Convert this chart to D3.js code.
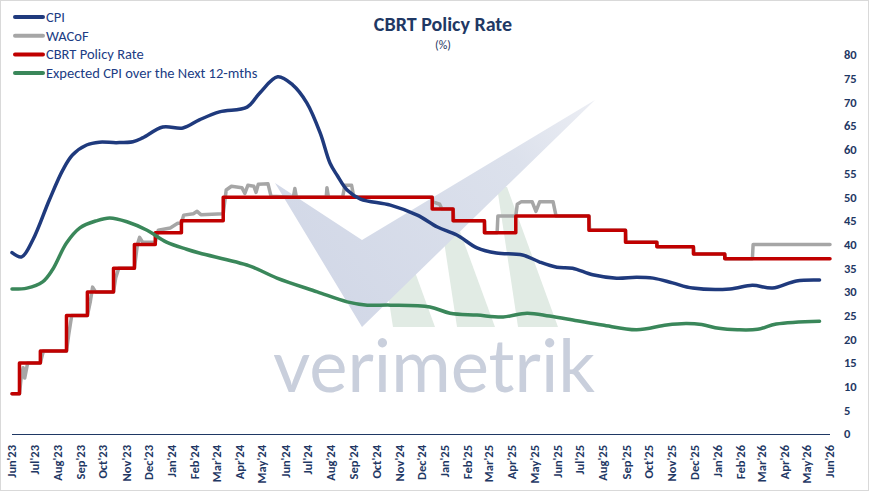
<!DOCTYPE html>
<html>
<head>
<meta charset="utf-8">
<script src="https://cdn.jsdelivr.net/npm/d3@7"></script>
<style>
  body { margin: 0; background: #fff; }
  svg { display: block; font-family: Carlito, Lato, "Open Sans", sans-serif; }
</style>
</head>
<body>
<div id="chart"></div>
<script>
// Data
const xTickLabels = ["Jun'23","Jul'23","Aug'23","Sep'23","Oct'23","Nov'23","Dec'23",
  "Jan'24","Feb'24","Mar'24","Apr'24","May'24","Jun'24","Jul'24","Aug'24","Sep'24","Oct'24","Nov'24","Dec'24",
  "Jan'25","Feb'25","Mar'25","Apr'25","May'25","Jun'25","Jul'25","Aug'25","Sep'25","Oct'25","Nov'25","Dec'25",
  "Jan'26","Feb'26","Mar'26","Apr'26","May'26","Jun'26"];
const yTicks = [0,5,10,15,20,25,30,35,40,45,50,55,60,65,70,75,80];

const policyDates = ["2023-06-12","2023-06-22","2023-07-20","2023-08-24","2023-09-21","2023-10-26","2023-11-23",
  "2023-12-21","2024-01-25","2024-03-21","2024-12-26","2025-01-23","2025-03-06","2025-04-17","2025-07-24",
  "2025-09-11","2025-10-23","2025-12-11","2026-01-22","2026-06-12"];
const policyValues = [8.5,15,17.5,25,30,35,40,42.5,45,50,47.5,45,42.5,46,43,40.5,39.5,38,37,37];

const wacofDates = ["2023-06-12","2023-06-22","2023-06-24","2023-06-27","2023-06-29","2023-07-03","2023-07-20","2023-07-24",
  "2023-08-24","2023-08-27","2023-08-31","2023-09-21","2023-09-25","2023-09-28","2023-10-02","2023-10-26","2023-10-29","2023-11-02",
  "2023-11-23","2023-11-27","2023-11-30","2023-12-04","2023-12-21","2023-12-25","2024-01-10","2024-01-20","2024-01-25","2024-01-28",
  "2024-02-10","2024-02-15","2024-02-20","2024-03-21","2024-03-25","2024-04-01","2024-04-15","2024-04-19","2024-04-23","2024-05-01",
  "2024-05-04","2024-05-07","2024-05-20","2024-05-24","2024-06-23","2024-06-25","2024-06-27","2024-08-06","2024-08-07","2024-08-09",
  "2024-08-28","2024-08-31","2024-09-09","2024-09-12","2024-12-26","2024-12-27","2025-01-05","2025-01-08","2025-01-23","2025-01-24",
  "2025-03-06","2025-03-07","2025-03-23","2025-03-24","2025-04-17","2025-04-19","2025-04-24","2025-05-09","2025-05-14","2025-05-19",
  "2025-06-06","2025-06-10","2025-07-24","2025-07-25","2025-09-11","2025-09-12","2025-10-23","2025-10-24","2025-12-11","2025-12-12",
  "2026-01-22","2026-01-23","2026-02-28","2026-03-01","2026-06-12"];
const wacofValues = [8.5,8.5,11.5,14,11.8,15,15,17.5,
  17.5,21,25,25,28,31,30,30,33,35,
  35,40,41.5,40.5,40.5,43,43.5,44.5,44.5,46.2,
  46.5,47,46.3,46.5,51.5,52.3,52,50.8,52.5,52.3,
  51,52.7,52.8,50.2,50,51.8,50,50,52,50,
  50,52.5,52.5,50,50,49,48.5,47.5,47.5,45,
  45,42.5,42.5,46,46,48.5,49,49,47,49,
  49,46,46,43,43,40.5,40.5,39.5,39.5,38,
  38,37,37,40,40];

const cpiDates = ["2023-06-12","2023-06-25","2023-07-10","2023-08-01","2023-08-19","2023-09-01","2023-09-20","2023-10-07",
  "2023-10-30","2023-11-21","2023-12-04","2023-12-31","2024-01-27","2024-02-18","2024-03-16","2024-04-22","2024-05-09",
  "2024-06-02","2024-06-22","2024-07-11","2024-07-29","2024-08-11","2024-08-21","2024-09-03","2024-09-21","2024-10-31",
  "2024-12-06","2025-01-02","2025-01-28","2025-02-24","2025-03-22","2025-04-26","2025-05-19","2025-06-11","2025-07-02",
  "2025-07-29","2025-08-30","2025-09-26","2025-10-18","2025-11-13","2025-12-10","2026-01-29","2026-02-28","2026-03-27",
  "2026-04-28","2026-05-29"];
const cpiValues = [38.3,37.4,41,49.4,55.7,58.9,61,61.6,
  61.5,61.7,62.5,64.8,64.6,66.3,68,69,72,
  75.4,73.7,69.9,63.5,57.2,54.5,51.5,49.6,48.3,
  46.2,43.7,42,39.3,38.2,37.8,36.3,35.2,35,
  33.6,32.9,33.1,32.9,31.9,30.8,30.6,31.4,30.8,
  32.3,32.5];

const expDates = ["2023-06-12","2023-07-02","2023-07-23","2023-08-05","2023-08-24","2023-09-11","2023-10-03","2023-10-21",
  "2023-11-13","2023-12-10","2024-01-05","2024-02-01","2024-02-18","2024-04-25","2024-06-01","2024-07-25","2024-09-03",
  "2024-09-30","2024-10-31","2024-12-23","2025-01-19","2025-02-24","2025-03-31","2025-05-02","2025-06-01","2025-07-08",
  "2025-08-11","2025-09-26","2025-11-05","2025-12-01","2025-12-22","2026-01-14","2026-02-08","2026-03-07","2026-04-01",
  "2026-05-29"];
const expValues = [30.6,30.8,32.1,34.6,40.3,43.5,45,45.6,
  44.8,43,40.5,39,38.2,35.5,32.9,30,27.9,
  27.2,27.2,26.8,25.5,25.1,24.7,25.5,24.9,23.9,
  23,22,23,23.3,23.1,22.3,22,22.1,23.2,
  23.8];

const seriesNames = ["CPI","WACoF","CBRT Policy Rate","Expected CPI over the Next 12-mths"];
const seriesColors = ["#1f3a7d","#a6a6a6","#c00000","#3a875a"];

// Layout
const width = 870, height = 492;
const plotLeft = 12, plotRight = 830, plotTop = 55, plotBottom = 434;
const navy = "#1f3864";
const parse = d3.timeParse("%Y-%m-%d");

const svg = d3.select("#chart").append("svg")
    .attr("width", width)
    .attr("height", height);

svg.append("rect")
    .attr("x", 0.5).attr("y", 0.5)
    .attr("width", width - 2).attr("height", height - 2)
    .attr("fill", "#fff")
    .attr("stroke", "#d9d9d9");

// Scales
const xStart = parse("2023-06-12"), xEnd = parse("2026-06-12");
const x = d3.scaleTime().domain([xStart, xEnd]).range([plotLeft, plotRight]);
const y = d3.scaleLinear().domain([0, 80]).range([plotBottom, plotTop]);

// Watermark
const defs = svg.append("defs");
const grad = defs.append("linearGradient")
    .attr("id", "vgrad")
    .attr("gradientUnits", "userSpaceOnUse")
    .attr("x1", 330).attr("y1", 300).attr("x2", 595).attr("y2", 100);
grad.append("stop").attr("offset", "0%").attr("stop-color", "#d2d8e7");
grad.append("stop").attr("offset", "70%").attr("stop-color", "#dce1ec");
grad.append("stop").attr("offset", "100%").attr("stop-color", "#eceef4");

const mark = svg.append("g").attr("class", "watermark");
const stripes = [
    [[381, 250], [407, 250], [435, 327], [393, 327]],
    [[440, 215], [454, 215], [495, 327], [457, 327]],
    [[497, 187], [507, 187], [558, 327], [518, 327]]
];
mark.selectAll("polygon.stripe")
    .data(stripes)
    .enter().append("polygon")
    .attr("class", "stripe")
    .attr("points", d => d.join(" "))
    .attr("fill", "#e1ebe4");
mark.append("polygon")
    .attr("points", [[275, 183], [362, 240], [595, 100], [362, 327]].join(" "))
    .attr("fill", "url(#vgrad)");
mark.append("text")
    .attr("x", 273).attr("y", 392)
    .attr("textLength", 322)
    .attr("lengthAdjust", "spacingAndGlyphs")
    .style("font-family", "Lato, 'Open Sans', sans-serif")
    .style("font-weight", 400)
    .style("font-size", "73px")
    .attr("fill", "#c9cfdc")
    .text("verimetrik");

// Axes
svg.append("line")
    .attr("x1", plotLeft).attr("x2", plotRight)
    .attr("y1", y(0) + 0.5).attr("y2", y(0) + 0.5)
    .attr("stroke", navy).attr("stroke-width", 1);

svg.append("g")
    .selectAll("text")
    .data(yTicks)
    .enter().append("text")
    .attr("x", 844)
    .attr("y", d => y(d))
    .attr("dy", "0.35em")
    .attr("fill", navy)
    .style("font-size", "12.5px")
    .style("font-weight", "bold")
    .text(d => d);

svg.append("g")
    .selectAll("text")
    .data(xTickLabels)
    .enter().append("text")
    .attr("transform", (d, i) => "translate(" + x(d3.timeMonth.offset(xStart, i)) + ",445)rotate(-90)")
    .attr("text-anchor", "end")
    .attr("dy", "0.35em")
    .attr("fill", navy)
    .style("font-size", "12.5px")
    .style("font-weight", "bold")
    .text(d => d);

// Lines
function toPoints(dates, values) {
    return dates.map((d, i) => ({ date: parse(d), value: values[i] }));
}

const smooth = d3.line().x(d => x(d.date)).y(d => y(d.value)).curve(d3.curveCatmullRom.alpha(0.5));
const straight = d3.line().x(d => x(d.date)).y(d => y(d.value));
const stepped = d3.line().x(d => x(d.date)).y(d => y(d.value)).curve(d3.curveStepAfter);

const lines = svg.append("g")
    .attr("fill", "none")
    .attr("stroke-linejoin", "round")
    .attr("stroke-linecap", "round");

lines.append("path")
    .attr("d", straight(toPoints(wacofDates, wacofValues)))
    .attr("stroke", seriesColors[1]).attr("stroke-width", 3.5);
lines.append("path")
    .attr("d", stepped(toPoints(policyDates, policyValues)))
    .attr("stroke", seriesColors[2]).attr("stroke-width", 3.5);
lines.append("path")
    .attr("d", smooth(toPoints(cpiDates, cpiValues)))
    .attr("stroke", seriesColors[0]).attr("stroke-width", 3.5);
lines.append("path")
    .attr("d", smooth(toPoints(expDates, expValues)))
    .attr("stroke", seriesColors[3]).attr("stroke-width", 3.5);

// Title
svg.append("text")
    .attr("x", 443).attr("y", 31)
    .attr("text-anchor", "middle")
    .attr("fill", navy)
    .style("font-size", "20px")
    .style("font-weight", "bold")
    .text("CBRT Policy Rate");
svg.append("text")
    .attr("x", 443).attr("y", 49)
    .attr("text-anchor", "middle")
    .attr("fill", navy)
    .style("font-size", "12px")
    .text("(%)");

// Legend
const legend = svg.append("g")
    .selectAll("g")
    .data(seriesNames)
    .enter().append("g")
    .attr("transform", (d, i) => "translate(15," + (17 + i * 18.7) + ")");
legend.append("line")
    .attr("x1", 0).attr("x2", 28)
    .attr("stroke", (d, i) => seriesColors[i])
    .attr("stroke-width", 4)
    .attr("stroke-linecap", "round");
legend.append("text")
    .attr("x", 31)
    .attr("dy", "0.35em")
    .attr("fill", "#203c84")
    .style("font-size", "14.5px")
    .text(d => d);
</script>
</body>
</html>
